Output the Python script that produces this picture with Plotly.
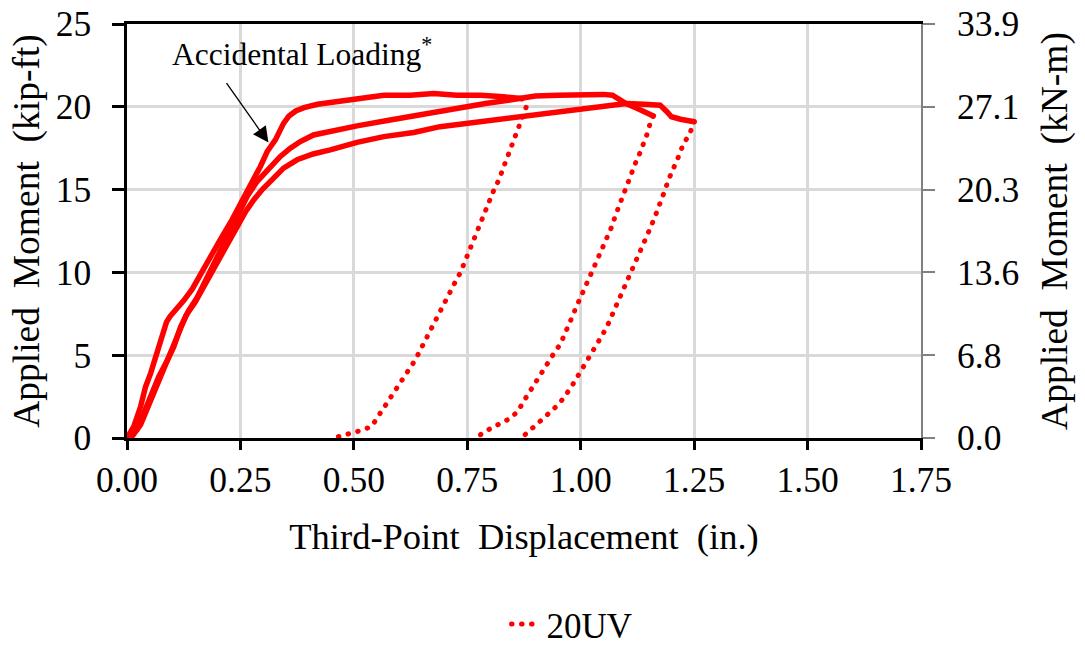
import plotly.graph_objects as go

# Specimen 20UV: applied moment (kip-ft) vs third-point displacement (in.)
# Loading branches (continuous) and unloading branches (dotted), in test order.
load_1_x = [0.0, 0.015, 0.03, 0.041, 0.052, 0.063, 0.072, 0.081, 0.087, 0.095, 0.111, 0.125,
            0.144, 0.162, 0.184, 0.206, 0.232, 0.257, 0.276, 0.294, 0.309, 0.327, 0.345,
            0.357, 0.372, 0.39, 0.42, 0.456, 0.507, 0.566, 0.624, 0.676, 0.727, 0.78,
            0.83, 0.87]
load_1_y = [0.0, 0.7, 1.9, 3.1, 3.9, 4.9, 5.9, 6.6, 7.0, 7.35, 7.8, 8.3,
            9.0, 9.9, 11.0, 12.0, 13.2, 14.5, 15.4, 16.4, 17.3, 18.0, 19.0,
            19.45, 19.75, 19.95, 20.15, 20.3, 20.5, 20.7, 20.7, 20.8, 20.7, 20.7,
            20.6, 20.5]

unload_1_x = [0.87, 0.88, 0.865, 0.857, 0.843, 0.834, 0.819, 0.809, 0.80, 0.793, 0.785, 0.776,
              0.768, 0.76, 0.752, 0.743, 0.735, 0.724, 0.705, 0.695, 0.685, 0.675, 0.666,
              0.655, 0.645, 0.635, 0.623, 0.611, 0.599, 0.586, 0.574, 0.563, 0.551, 0.539,
              0.519, 0.497, 0.476, 0.455]
unload_1_y = [20.5, 20.0, 18.9, 18.3, 17.2, 16.6, 15.55, 15.0, 14.4, 13.9, 13.3, 12.8,
              12.2, 11.7, 11.1, 10.6, 10.0, 9.45, 8.4, 7.9, 7.3, 6.8, 6.3,
              5.7, 5.2, 4.7, 4.2, 3.7, 3.2, 2.7, 2.2, 1.7, 1.2, 0.7,
              0.48, 0.3, 0.12, 0.0]

load_2_x = [0.0, 0.022, 0.037, 0.052, 0.07, 0.089, 0.103, 0.118, 0.136, 0.155, 0.177, 0.199,
            0.221, 0.243, 0.265, 0.287, 0.309, 0.338, 0.36, 0.382, 0.411, 0.45, 0.507,
            0.58, 0.632, 0.69, 0.735, 0.79, 0.84, 0.87, 0.9, 0.95, 1.0, 1.05, 1.07,
            1.085, 1.1, 1.125, 1.145, 1.16]
load_2_y = [0.0, 0.5, 1.5, 2.5, 3.7, 4.7, 5.5, 6.7, 7.7, 8.5, 9.75, 10.96,
            12.2, 13.4, 14.6, 15.5, 16.2, 17.0, 17.5, 17.9, 18.3, 18.55, 18.85,
            19.2, 19.45, 19.8, 20.0, 20.2, 20.4, 20.55, 20.65, 20.7, 20.75, 20.75, 20.7,
            20.4, 20.2, 19.9, 19.6, 19.45]

unload_2_x = [1.16, 1.153, 1.147, 1.14, 1.131, 1.122, 1.114, 1.107, 1.098, 1.091, 1.083, 1.076,
              1.069, 1.06, 1.05, 1.041, 1.033, 1.025, 1.016, 1.008, 0.999, 0.989, 0.981,
              0.972, 0.964, 0.955, 0.942, 0.931, 0.92, 0.907, 0.896, 0.884, 0.873, 0.862,
              0.845, 0.826, 0.808, 0.788, 0.77]
unload_2_y = [19.45, 19.0, 18.4, 17.85, 17.25, 16.7, 16.14, 15.6, 15.04, 14.5, 13.9, 13.4,
              12.8, 12.27, 11.7, 11.17, 10.6, 10.05, 9.5, 8.95, 8.4, 7.84, 7.3,
              6.73, 6.19, 5.66, 5.16, 4.66, 4.15, 3.67, 3.14, 2.64, 2.16, 1.63,
              1.19, 0.93, 0.62, 0.38, 0.02]

load_3_x = [0.0, 0.01, 0.03, 0.045, 0.06, 0.078, 0.095, 0.112, 0.13, 0.15, 0.172, 0.195,
            0.218, 0.24, 0.262, 0.28, 0.298, 0.32, 0.345, 0.375, 0.41, 0.448, 0.507,
            0.566, 0.632, 0.69, 0.735, 0.815, 0.9, 0.96, 1.04, 1.1, 1.14, 1.175, 1.19,
            1.2, 1.22, 1.24, 1.25]
load_3_y = [0.0, 0.05, 0.8, 1.8, 2.9, 4.1, 5.2, 6.3, 7.4, 8.2, 9.3, 10.5,
            11.6, 12.6, 13.7, 14.4, 15.0, 15.6, 16.3, 16.8, 17.15, 17.4, 17.85,
            18.2, 18.45, 18.8, 18.95, 19.2, 19.5, 19.75, 20.0, 20.2, 20.15, 20.1, 19.7,
            19.4, 19.25, 19.2, 19.1]

unload_3_x = [1.25, 1.249, 1.24, 1.226, 1.219, 1.21, 1.201, 1.193, 1.186, 1.179, 1.171, 1.163,
              1.155, 1.146, 1.137, 1.129, 1.119, 1.109, 1.1, 1.093, 1.085, 1.076, 1.067,
              1.058, 1.047, 1.036, 1.025, 1.014, 1.003, 0.992, 0.981, 0.968, 0.955, 0.94,
              0.923, 0.907, 0.891, 0.874]
unload_3_y = [19.1, 19.12, 18.32, 17.77, 17.21, 16.67, 16.1, 15.56, 14.99, 14.43, 13.89, 13.32,
              12.78, 12.21, 11.67, 11.11, 10.56, 10.02, 9.45, 8.95, 8.39, 7.84, 7.27,
              6.73, 6.19, 5.66, 5.16, 4.66, 4.15, 3.67, 3.16, 2.64, 2.16, 1.74,
              1.33, 0.99, 0.53, 0.12]

# Axis ticks: kip-ft on the left, the same positions converted to kN-m on the right
x_ticks = [0.0, 0.25, 0.5, 0.75, 1.0, 1.25, 1.5, 1.75]
x_tick_text = ["0.00", "0.25", "0.50", "0.75", "1.00", "1.25", "1.50", "1.75"]
kip_ticks = [0, 5, 10, 15, 20, 25]
kNm_tick_text = ["0.0", "6.8", "13.6", "20.3", "27.1", "33.9"]
KIPFT_TO_KNM = 1.35582

RED = "#FF0000"
FONT = "Liberation Serif"

fig = go.Figure()

loading = [(load_1_x, load_1_y), (load_2_x, load_2_y), (load_3_x, load_3_y)]
unloading = [(unload_1_x, unload_1_y), (unload_2_x, unload_2_y), (unload_3_x, unload_3_y)]

for xs, ys in loading:
    fig.add_trace(go.Scatter(
        x=xs, y=ys, mode="lines", name="20UV", legendgroup="20UV", showlegend=False,
        line=dict(color=RED, width=5.5),
        hoverinfo="skip",
    ))

for i, (xs, ys) in enumerate(unloading):
    fig.add_trace(go.Scatter(
        x=xs, y=ys, mode="lines", name="20UV", legendgroup="20UV", showlegend=(i == 0),
        line=dict(color=RED, width=5, dash="0.5px,9.5px"),
        hoverinfo="skip",
    ))

# Secondary (kN-m) axis: same curve expressed in kN-m, drawn fully transparent so the
# right-hand axis is laid out
fig.add_trace(go.Scatter(
    x=load_1_x, y=[v * KIPFT_TO_KNM for v in load_1_y], yaxis="y2", mode="lines",
    line=dict(color="rgba(0,0,0,0)", width=0), showlegend=False, hoverinfo="skip",
))

fig.add_annotation(
    x=0.3117, y=17.84, ax=0.217, ay=21.52, xref="x", yref="y", axref="x", ayref="y",
    text="", showarrow=True, arrowhead=2, arrowsize=2.4, arrowwidth=1.3, arrowcolor="black",
)
fig.add_annotation(
    x=0.0958, y=23.3, xref="x", yref="y", xanchor="left", yanchor="middle",
    text="Accidental Loading<sup>*</sup>", showarrow=False,
    font=dict(family=FONT, size=31.5, color="black"),
)

kNm_ticks = [v * KIPFT_TO_KNM for v in kip_ticks]

fig.update_layout(
    width=1085, height=647,
    margin=dict(l=127, r=164, t=24, b=209, autoexpand=False),
    paper_bgcolor="white", plot_bgcolor="white",
    font=dict(family=FONT, size=35, color="black"),
    xaxis=dict(
        range=[0, 1.75], tickvals=x_ticks, ticktext=x_tick_text, automargin=False,
        showgrid=True, gridcolor="#D9D9D9", gridwidth=2.5, zeroline=False,
        showline=True, linecolor="black", linewidth=2.5, mirror=True,
        ticks="outside", ticklen=9, tickwidth=2.5, tickcolor="black",
        ticklabelstandoff=0,
        title=dict(text="Third-Point  Displacement  (in.)", standoff=25,
                   font=dict(family=FONT, size=36.5)),
        tickfont=dict(family=FONT, size=35.5),
    ),
    yaxis=dict(
        range=[0, 25], tickvals=kip_ticks, automargin=False,
        showgrid=True, gridcolor="#D9D9D9", gridwidth=2.5, zeroline=False,
        showline=True, linecolor="black", linewidth=2.5,
        ticks="outside", ticklen=12, tickwidth=2.5, tickcolor="black",
        ticklabelstandoff=14,
        title=dict(text="Applied  Moment  (kip-ft)", standoff=5,
                   font=dict(family=FONT, size=37.5)),
        tickfont=dict(family=FONT, size=35.5),
    ),
    yaxis2=dict(
        range=[0, 25 * KIPFT_TO_KNM], tickvals=kNm_ticks, ticktext=kNm_tick_text,
        overlaying="y", side="right", anchor="x", automargin=False,
        showgrid=False, zeroline=False,
        showline=True, linecolor="#808080", linewidth=2,
        ticks="outside", ticklen=12, tickwidth=2, tickcolor="#808080",
        ticklabelstandoff=15,
        title=dict(text="Applied  Moment  (kN-m)", standoff=23,
                   font=dict(family=FONT, size=37.5)),
        tickfont=dict(family=FONT, size=35.5),
    ),
    showlegend=True,
    legend=dict(
        orientation="h", x=0.478, y=-0.45, xanchor="left", yanchor="middle",
        font=dict(family=FONT, size=35), bgcolor="rgba(0,0,0,0)",
    ),
)

# Round dot caps for the dotted branches
round_caps = """
var gd = document.getElementById('{plot_id}');
gd.querySelectorAll('.js-line').forEach(function (p) { p.style.strokeLinecap = 'round'; });
"""

fig.write_html("out.html", post_script=round_caps)
